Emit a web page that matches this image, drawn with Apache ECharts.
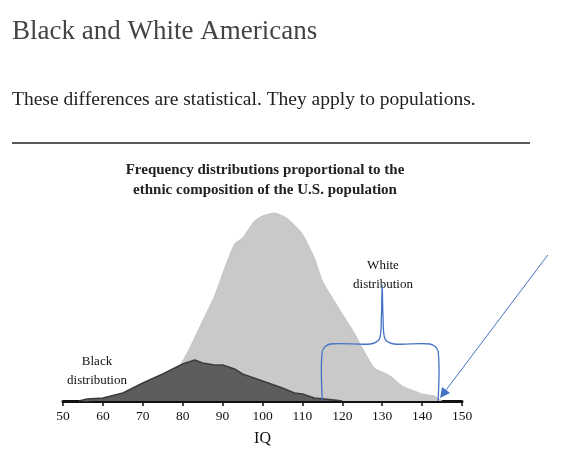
<!DOCTYPE html>
<html><head><meta charset="utf-8">
<script src="https://cdn.jsdelivr.net/npm/echarts@6/dist/echarts.min.js"></script>
<style>body{margin:0;background:#fff}#c{width:576px;height:456px}</style></head>
<body><div id="c"></div>
<script>
const whiteIQ = [55,60,65,70,75,78,80,82,85,88,90,93,95,98,100,103,106,108,110,113,115,118,120,123,125,128,130,132,135,138,140,143,145];
const whiteH  = [0,1,4,10,18,28,40,55,80,105,127,157,163,180,185,188,183,176,167,143,120,100,87,68,53,33,29,25,15,10,7,5,0];
const blackIQ = [54,56,60,65,70,75,78,80,83,85,88,90,93,95,100,105,108,110,113,118,120];
const blackH  = [0,2,3,8,18,27,33,37,41,38,36,36,32,27,20,13,8,7,3,1,0];
const xTicks = [50,60,70,80,90,100,110,120,130,140,150];
const bracket = [[115,0],[115,50],[117,57],[127,57],[129.3,62],[129.8,85],[130,116],[130.2,85],[130.7,62],[133,57],[142,57],[144,50],[144,0]];
const arrow = [[171.5,146],[144.5,3]];

const chart = echarts.init(document.getElementById('c'));
const serif = 'Liberation Serif';
chart.setOption({
  animation:false,
  grid:{left:63,right:114,top:201,bottom:55},
  title:[
    {text:'Black and White Americans',left:7,top:13,textStyle:{fontFamily:serif,fontSize:27,fontWeight:'normal',color:'#444'}},
    {text:'These differences are statistical. They apply to populations.',left:7,top:85,textStyle:{fontFamily:serif,fontSize:19.5,fontWeight:'normal',color:'#222'}},
    {text:'Frequency distributions proportional to the\nethnic composition of the U.S. population',left:260,textAlign:'center',top:155,textStyle:{fontFamily:serif,fontSize:15,fontWeight:'bold',color:'#222',lineHeight:20}}
  ],
  graphic:[
    {type:'line',shape:{x1:12,y1:143,x2:530,y2:143},style:{stroke:'#222',lineWidth:1.5}},
    {type:'text',x:383,y:256,style:{text:'White\ndistribution',fontFamily:serif,fontSize:13,fill:'#111',align:'center',lineHeight:19}},
    {type:'text',x:97,y:352,style:{text:'Black\ndistribution',fontFamily:serif,fontSize:13,fill:'#111',align:'center',lineHeight:19}}
  ],
  xAxis:{type:'value',min:50,max:150,interval:10,name:'IQ',nameLocation:'middle',nameGap:30,
    nameTextStyle:{fontFamily:serif,fontSize:16,color:'#111'},
    axisLine:{onZero:false,lineStyle:{color:'#111',width:3}},
    axisTick:{inside:false,length:5,lineStyle:{color:'#111',width:1.5}},
    axisLabel:{fontFamily:serif,fontSize:13.5,color:'#111',margin:8,formatter:v=>xTicks.includes(v)?String(v):''},
    splitLine:{show:false}},
  yAxis:{type:'value',min:0,max:200,show:false},
  series:[
    {type:'line',data:whiteIQ.map((x,i)=>[x,whiteH[i]]),smooth:0.2,symbol:'none',lineStyle:{color:'#c4c4c4',width:1},areaStyle:{color:'#c9c9c9',opacity:1},z:1},
    {type:'line',data:blackIQ.map((x,i)=>[x,blackH[i]]),symbol:'none',lineStyle:{color:'#3c3c3c',width:1.5},areaStyle:{color:'#5d5d5d',opacity:1},z:2},
    {type:'custom',coordinateSystem:'cartesian2d',clip:false,z:5,data:[[0,0]],
      renderItem:(p,api)=>{
        const b=bracket.map(pt=>api.coord(pt));
        const a=arrow.map(pt=>api.coord(pt));
        const dx=a[1][0]-a[0][0],dy=a[1][1]-a[0][1],L=Math.hypot(dx,dy),ux=dx/L,uy=dy/L;
        const t=a[1],s=10,w=5;
        return {type:'group',children:[
          {type:'polyline',shape:{points:b,smooth:0.3},style:{stroke:'#4472c4',lineWidth:1.3,fill:null}},
          {type:'line',shape:{x1:a[0][0],y1:a[0][1],x2:t[0]-ux*s,y2:t[1]-uy*s},style:{stroke:'#4472c4',lineWidth:1}},
          {type:'polygon',shape:{points:[t,[t[0]-ux*s-uy*w,t[1]-uy*s+ux*w],[t[0]-ux*s+uy*w,t[1]-uy*s-ux*w]]},style:{fill:'#4472c4'}}
        ]};
      }}
  ]
});
</script></body></html>
